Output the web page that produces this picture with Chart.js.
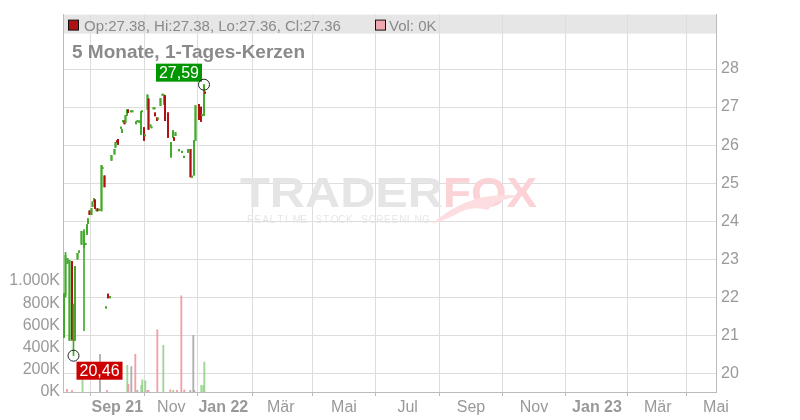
<!DOCTYPE html>
<html><head><meta charset="utf-8">
<script src="https://cdn.jsdelivr.net/npm/chart.js@4.4.1/dist/chart.umd.min.js"></script>
<style>html,body{margin:0;padding:0;background:#fff;}canvas{display:block;}</style>
</head><body>
<canvas id="c" width="800" height="420"></canvas>
<script>
// ---- data ----
const candleDay = [1,2.5,4.5,6.5,9,10.5,12,14.5,16,18.5,21,22.5,24,25,26.5,28.5,29.5,31,32,33.5,34.5,36.5,38.5,39.5,41.5,43,45,47,48.5,51.5,52.5,54,55,58,59,60,61.5,62.5,64,65,68,69.5,73,74.5,76.5,78,79,81,82,84.5,85.5,87.5,88.5,90.5,91.5,92,94,95,97.5,99.5,101,102,105,108,110,111,112.5,116,119,121,125,127.5,129,131,132.5,136,138,139,141,142];
const openP  = [20.94,22.05,22.89,20.86,22.94,20.90,20.86,23.00,23.18,23.39,23.30,23.38,23.65,23.93,24.27,24.17,24.38,24.51,24.56,24.27,24.33,24.28,24.27,25.38,25.19,21.71,22.08,21.98,25.60,25.76,25.94,26.10,26.15,26.44,26.33,26.61,26.64,26.59,26.78,26.93,26.87,26.87,26.56,26.61,26.59,26.28,26.87,26.46,26.24,26.93,27.22,26.50,26.45,26.95,26.95,26.85,26.72,26.68,27.04,27.31,27.07,27.30,26.85,25.68,26.20,26.20,26.25,25.85,25.80,25.67,25.81,25.89,25.15,25.21,26.12,27.07,27.00,26.77,26.78,27.38];
const highP  = [22.10,23.18,23.02,22.97,22.94,21.82,22.81,23.15,23.22,23.73,23.78,23.40,23.91,24.07,24.27,24.33,24.51,24.59,24.56,24.31,24.33,24.30,25.47,25.40,25.19,21.73,22.08,22.00,25.73,25.89,26.07,26.10,26.15,26.46,26.41,26.63,26.64,26.78,26.93,26.93,26.89,26.89,26.62,26.63,26.64,26.88,26.88,26.46,26.26,27.32,27.22,26.51,26.47,26.97,26.97,26.85,26.72,26.70,27.23,27.33,27.32,27.30,26.85,26.07,26.38,26.20,26.33,25.87,25.82,25.69,25.89,25.89,25.17,26.12,27.04,27.07,27.00,26.79,27.59,27.38];
const lowP   = [20.94,22.00,22.89,20.86,20.86,20.46,20.86,23.00,23.18,23.39,21.12,23.38,23.65,23.93,24.17,24.17,24.38,24.51,24.33,24.27,24.27,24.28,24.27,25.38,24.90,21.71,21.98,21.98,25.60,25.76,25.94,26.08,26.02,26.44,26.33,26.61,26.56,26.59,26.78,26.85,26.87,26.87,26.56,26.61,26.59,26.28,26.87,26.12,26.24,26.93,26.41,26.50,26.45,26.95,26.95,26.77,26.64,26.68,27.04,27.31,27.07,26.64,26.20,25.68,26.20,26.12,26.25,25.85,25.80,25.67,25.81,25.16,25.15,25.21,26.12,26.67,26.62,26.77,26.78,27.36];
const closeP = [22.08,23.10,23.02,22.97,20.90,21.80,22.81,23.15,23.22,23.73,23.73,23.40,23.91,24.07,24.17,24.33,24.51,24.59,24.33,24.31,24.27,24.30,25.47,25.40,24.90,21.73,21.98,22.00,25.73,25.89,26.07,26.08,26.02,26.46,26.41,26.63,26.56,26.78,26.93,26.85,26.89,26.89,26.62,26.63,26.64,26.88,26.88,26.12,26.26,27.32,26.41,26.51,26.47,26.97,26.97,26.77,26.64,26.70,27.23,27.33,27.32,26.64,26.20,26.07,26.38,26.12,26.33,25.87,25.82,25.69,25.89,25.16,25.17,26.12,27.04,26.67,26.62,26.79,27.59,27.36];

const volDay = [4,9,19.5,37,44,64.3,65.3,68.3,72.3,74.3,78.3,79.3,82.3,84.5,85.5,94.3,100.3,107.3,110.3,114,118.3,121.3,127.3,130.3,131.3,138.3,140.3,141.3,142];
const volume = [25000,15000,110000,340000,15000,240000,70000,230000,340000,15000,60000,110000,100000,15000,15000,560000,420000,20000,15000,15000,866000,20000,15000,510000,15000,60000,55000,270000,0];
const volDir = ['d','d','u','f','d','u','d','f','d','f','u','u','u','d','d','d','u','d','u','d','d','d','f','f','f','u','u','u','d'];

const xTickPos    = [54.3,108.3,160.3,217.8,281,344.7,408,471,534,594.7,653];
const xTickLabels = ['Sep 21','Nov','Jan 22','Mär','Mai','Jul','Sep','Nov','Jan 23','Mär','Mai'];
const xTickBold   = [true,false,true,false,false,false,false,false,true,false,false];
const priceTicks  = [20,21,22,23,24,25,26,27,28];
const volTicks    = [0,200000,400000,600000,800000,1000000];
const volTickLabels = ['0K','200K','400K','600K','800K','1.000K'];
const titleText = '5 Monate, 1-Tages-Kerzen';

// ---- styles ----
const FONT = '"Liberation Sans", Arial, sans-serif';
const UP = 'rgb(68,170,44)', DOWN = 'rgb(176,18,18)';
const VUP = 'rgba(140,208,130,0.85)', VDOWN = 'rgba(238,150,160,0.9)', VFLAT = 'rgb(175,175,175)';

const candleCol = openP.map((o,i)=> closeP[i] >= o ? UP : DOWN);
const wickData = candleDay.map((d,i)=>({x:d, y:[lowP[i], highP[i]]}));
const bodyData = candleDay.map((d,i)=>({x:d, y:[openP[i], closeP[i]]}));
const volData = volDay.map((d,i)=>({x:d, y:volume[i]}));
const volCol = volDir.map(s => s==='u'?VUP:(s==='d'?VDOWN:VFLAT));

function de(v){ return v.toFixed(2).replace('.', ','); }

const overlay = {
  id:'overlay',
  beforeDraw(chart){
    const {ctx, chartArea:a} = chart;
    ctx.save();
    ctx.fillStyle = '#e6e6e6';
    ctx.fillRect(a.left, a.top, a.right - a.left, 19);
    ctx.restore();
  },
  beforeDatasetsDraw(chart){
    const {ctx, chartArea:a} = chart;
    const n = openP.length - 1;
    ctx.save();
    // header
    ctx.fillStyle = DOWN; ctx.fillRect(a.left+5.5, a.top+5.5, 10, 10);
    ctx.strokeStyle = '#111'; ctx.lineWidth = 1; ctx.strokeRect(a.left+5.5, a.top+5.5, 10, 10);
    ctx.fillStyle = '#8a8a8a'; ctx.font = '15px ' + FONT; ctx.textBaseline = 'alphabetic';
    ctx.fillText('Op:' + openP[n].toFixed(2) + ', Hi:' + highP[n].toFixed(2) + ', Lo:' + lowP[n].toFixed(2) + ', Cl:' + closeP[n].toFixed(2), a.left+21, a.top+16);
    ctx.fillStyle = '#f0a8b0'; ctx.fillRect(a.left+312.5, a.top+5.5, 10, 10);
    ctx.strokeRect(a.left+312.5, a.top+5.5, 10, 10);
    ctx.fillStyle = '#8a8a8a';
    ctx.fillText('Vol: ' + Math.round(volume[volume.length-1]/1000) + 'K', a.left+326, a.top+16);
    // title
    ctx.font = 'bold 19px ' + FONT;
    ctx.fillStyle = '#8a8a8a';
    ctx.fillText(titleText, a.left+9, a.top+43);
    // watermark
    ctx.save();
    ctx.font = 'bold 42px ' + FONT;
    let w = ctx.measureText('TRADER').width;
    ctx.translate(240, 207); ctx.scale(203/w, 1);
    ctx.fillStyle = '#e5e5e5'; ctx.fillText('TRADER', 0, 0);
    ctx.restore();
    ctx.save();
    ctx.font = 'bold 42px ' + FONT;
    w = ctx.measureText('FOX').width;
    ctx.translate(443, 207); ctx.scale(94/w, 1);
    ctx.fillStyle = '#fbd2d5'; ctx.fillText('FOX', 0, 0);
    ctx.restore();
    // fox tail
    ctx.save();
    ctx.fillStyle = '#fcdde0';
    ctx.beginPath();
    ctx.moveTo(432, 224);
    ctx.quadraticCurveTo(470, 190, 520, 196);
    ctx.quadraticCurveTo(495, 200, 488, 210);
    ctx.quadraticCurveTo(470, 205, 455, 215);
    ctx.quadraticCurveTo(445, 220, 432, 224);
    ctx.fill();
    ctx.restore();
    ctx.save();
    ctx.font = '10px ' + FONT; ctx.fillStyle = '#e6e6e6';
    const sub = 'REALTIME STOCK SCREENING';
    const step = 175 / (sub.length - 1);
    for (let i=0;i<sub.length;i++) ctx.fillText(sub[i], 250 + i*step - 3, 223);
    ctx.restore();
    ctx.restore();
  },
  afterDatasetsDraw(chart){
    const {ctx, scales:{x, y}} = chart;
    let iMax = 0, iMin = 0;
    highP.forEach((v,i)=>{ if (v > highP[iMax]) iMax = i; });
    lowP.forEach((v,i)=>{ if (v < lowP[iMin]) iMin = i; });
    ctx.save();
    ctx.font = '16px ' + FONT;
    ctx.textBaseline = 'middle'; ctx.textAlign = 'center';
    // max
    let cx = x.getPixelForValue(candleDay[iMax]), cy = y.getPixelForValue(highP[iMax]);
    let t = de(highP[iMax]); let bw = ctx.measureText(t).width + 6, bh = 18;
    ctx.fillStyle = 'rgb(0,150,0)';
    ctx.fillRect(cx - 2 - bw, cy - 3 - bh, bw, bh);
    ctx.fillStyle = '#fff'; ctx.fillText(t, cx - 2 - bw/2, cy - 3 - bh/2 + 1);
    ctx.beginPath(); ctx.arc(cx, cy, 5.5, 0, Math.PI*2); ctx.strokeStyle = '#222'; ctx.lineWidth = 1; ctx.stroke();
    // min
    cx = x.getPixelForValue(candleDay[iMin]); cy = y.getPixelForValue(lowP[iMin]);
    t = de(lowP[iMin]); bw = ctx.measureText(t).width + 6;
    ctx.fillStyle = 'rgb(204,0,0)';
    ctx.fillRect(cx + 3, cy + 6, bw, bh);
    ctx.fillStyle = '#fff'; ctx.fillText(t, cx + 3 + bw/2, cy + 6 + bh/2 + 1);
    ctx.beginPath(); ctx.arc(cx, cy, 5.5, 0, Math.PI*2); ctx.strokeStyle = '#222'; ctx.stroke();
    ctx.restore();
  }
};

new Chart(document.getElementById('c'), {
  type: 'bar',
  data: { datasets: [
    { label:'vol', data: volData, yAxisID:'vol', backgroundColor: volCol, barThickness: 1.2, grouped:false, order:3, borderWidth:0 },
    { label:'wick', data: wickData, yAxisID:'y', backgroundColor: candleCol, barThickness: 1, grouped:false, order:2, borderWidth:0, minBarLength:1 },
    { label:'body', data: bodyData, yAxisID:'y', backgroundColor: candleCol, barThickness: 1.3, grouped:false, order:1, borderWidth:0, minBarLength:1.5 }
  ]},
  options: {
    responsive:false, animation:false, devicePixelRatio:1,
    layout:{ padding:{ top:11, left:0, right:0, bottom:0 } },
    plugins:{ legend:{display:false}, tooltip:{enabled:false} },
    scales:{
      x:{ type:'linear', min:0, max:653, offset:false,
        afterBuildTicks: s => { s.ticks = xTickPos.map(v=>({value:v})); },
        afterFit: s => { s.height = 28; },
        ticks:{ autoSkip:false, maxRotation:0, padding:2, color:'#999',
          callback:(v,i)=> xTickLabels[i],
          font: c => ({ family: FONT, size: 16, weight: xTickBold[c.index] ? 'bold' : 'normal' }) },
        grid:{ color:'#dddddd', tickColor:'#bbbbbb', tickLength:4 },
        border:{ color:'#bbbbbb' } },
      y:{ type:'linear', position:'right', min:19.505, max:29.433,
        afterBuildTicks: s => { s.ticks = priceTicks.map(v=>({value:v})); },
        afterFit: s => { s.width = 84; },
        ticks:{ padding:5, color:'#999', font:{family:FONT, size:16}, callback: v => String(v) },
        grid:{ color:'#dddddd', drawTicks:false },
        border:{ color:'#bbbbbb' } },
      vol:{ type:'linear', position:'left', min:0, max:3400000,
        afterBuildTicks: s => { s.ticks = volTicks.map(v=>({value:v})); },
        afterFit: s => { s.width = 63; },
        ticks:{ padding:3, color:'#999', font:{family:FONT, size:16}, callback:(v,i)=> volTickLabels[i] },
        grid:{ display:false, drawTicks:false },
        border:{ color:'#bbbbbb' } }
    }
  },
  plugins:[overlay]
});
</script>
</body></html>
